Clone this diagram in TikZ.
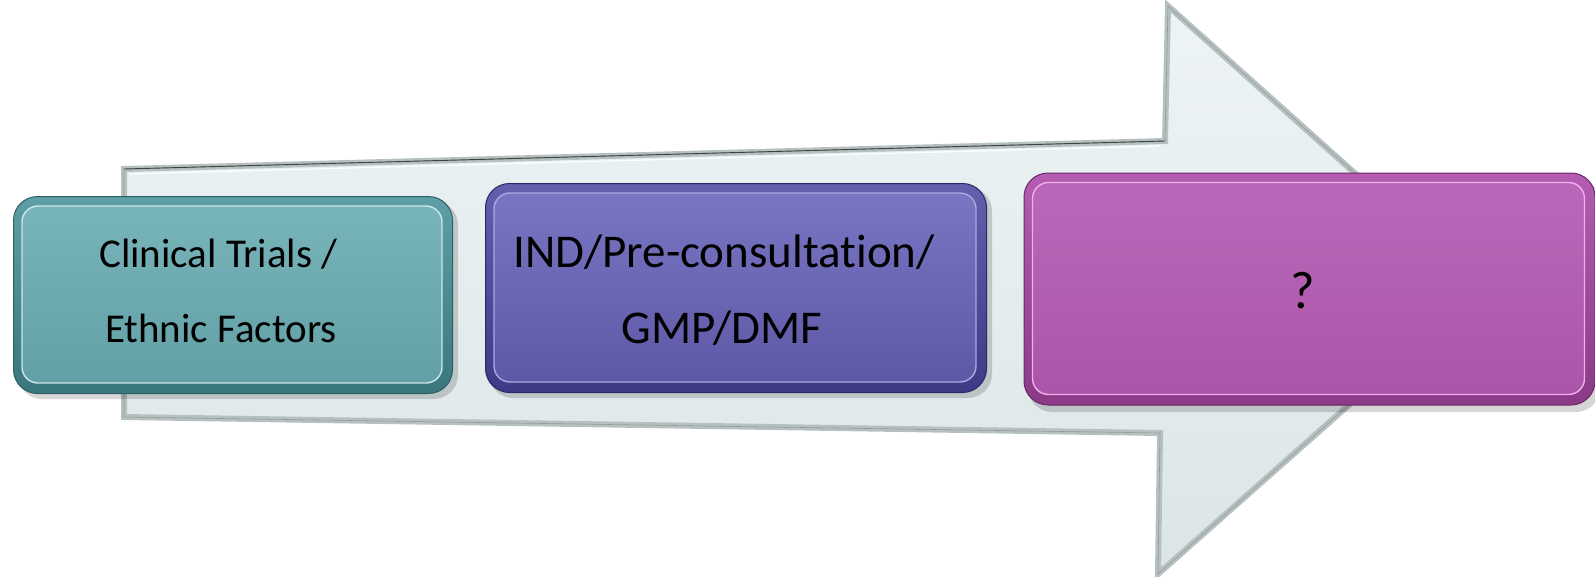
\documentclass[tikz,border=0pt]{standalone}
\usepackage{fontspec}
\setmainfont{Carlito}[Ligatures=NoCommon]
\usetikzlibrary{calc}
\definecolor{tealT}{HTML}{78B5BB}
\definecolor{tealB}{HTML}{62A0A6}
\definecolor{tealRT}{HTML}{5E9FA6}
\definecolor{tealRB}{HTML}{3A777D}
\definecolor{tealD}{HTML}{2E5F64}
\definecolor{tealH}{HTML}{CBE7E9}
\definecolor{purT}{HTML}{7875C3}
\definecolor{purB}{HTML}{5E59A7}
\definecolor{purRT}{HTML}{6360AE}
\definecolor{purRB}{HTML}{3E3A86}
\definecolor{purD}{HTML}{2C2866}
\definecolor{purH}{HTML}{ABA8E2}
\definecolor{magT}{HTML}{B968B9}
\definecolor{magB}{HTML}{AC55A8}
\definecolor{magRT}{HTML}{B45CB2}
\definecolor{magRB}{HTML}{8A3A87}
\definecolor{magD}{HTML}{6C2869}
\definecolor{magH}{HTML}{EDB0EA}
\definecolor{arrT}{HTML}{EEF4F5}
\definecolor{arrB}{HTML}{DCE5E6}
\definecolor{arrE}{HTML}{B5C0C1}
\tikzset{
  rim/.style={rounded corners=24pt, line width=1pt},
  face/.style={rounded corners=16pt, line width=1.4pt},
  shade box/.style={rounded corners=24pt, fill=black, opacity=0.16},
  lbl/.style={anchor=base, text=black, inner sep=0pt},
}
\begin{document}
\begin{tikzpicture}[x=1pt,y=-1pt]
\useasboundingbox (0,0) rectangle (1595,576);
% big arrow
\coordinate (a1) at (124,169);
\coordinate (a2) at (1165,141);
\coordinate (a3) at (1168,6);
\coordinate (a4) at (1482,287);
\coordinate (a5) at (1158,574);
\coordinate (a6) at (1160,433);
\coordinate (a7) at (124,417);
\fill[top color=arrT, bottom color=arrB] (a1) -- (a2) -- (a3) -- (a4) -- (a5) -- (a6) -- (a7) -- cycle;
\draw[arrE, line width=6pt, line join=miter] (a1) -- (a2) -- (a3) -- (a4) -- (a5) -- (a6) -- (a7) -- cycle;
\draw[white, line width=1.2pt] ($(a1)+(5pt,-5pt)$) -- ($(a2)+(-5pt,-5pt)$);
\draw[gray!80, line width=0.6pt] (a1) -- (a2) -- (a3) -- (a4) -- (a5) -- (a6) -- (a7) -- cycle;
\draw[black!75, line width=0.9pt] (a1) -- (a2);

% teal box
\fill[shade box] (18,201) rectangle (458,399);
\node[rim, draw=tealD, top color=tealRT, bottom color=tealRB, minimum width=439pt, minimum height=197pt, inner sep=0pt] (t) at (233,295) {};
\draw[face, draw=tealH, top color=tealT, bottom color=tealB] ($(t.north west)+(9pt,-10pt)$) rectangle ($(t.south east)+(-11pt,11pt)$);
\node[lbl, font=\fontsize{41}{41}\selectfont] (ttext1) at (218.5,267) {Clinical Trials /};
\node[lbl, font=\fontsize{41}{41}\selectfont] (ttext2) at (221,342) {Ethnic Factors};

% purple box
\fill[shade box] (489,187) rectangle (992,398);
\node[rim, draw=purD, top color=purRT, bottom color=purRB, minimum width=501pt, minimum height=209pt, inner sep=0pt] (p) at (736,288) {};
\draw[face, draw=purH, top color=purT, bottom color=purB] ($(p.north west)+(9pt,-10pt)$) rectangle ($(p.south east)+(-11pt,11pt)$);
\node[lbl, font=\fontsize{47}{47}\selectfont] (ptext1) at (724,267) {IND/Pre-consultation/};
\node[lbl, font=\fontsize{47}{47}\selectfont] (ptext2) at (722,343) {GMP/DMF};

% magenta box
\fill[shade box] (1028,178) rectangle (1600,412);
\node[rim, draw=magD, top color=magRT, bottom color=magRB, minimum width=571pt, minimum height=232pt, inner sep=0pt] (m) at (1309.5,289) {};
\draw[face, draw=magH, top color=magT, bottom color=magB] ($(m.north west)+(9pt,-10pt)$) rectangle ($(m.south east)+(-11pt,11pt)$);
\node[lbl, font=\fontsize{53}{53}\selectfont] (mtext) at (1303,308) {?};
\end{tikzpicture}
\end{document}
